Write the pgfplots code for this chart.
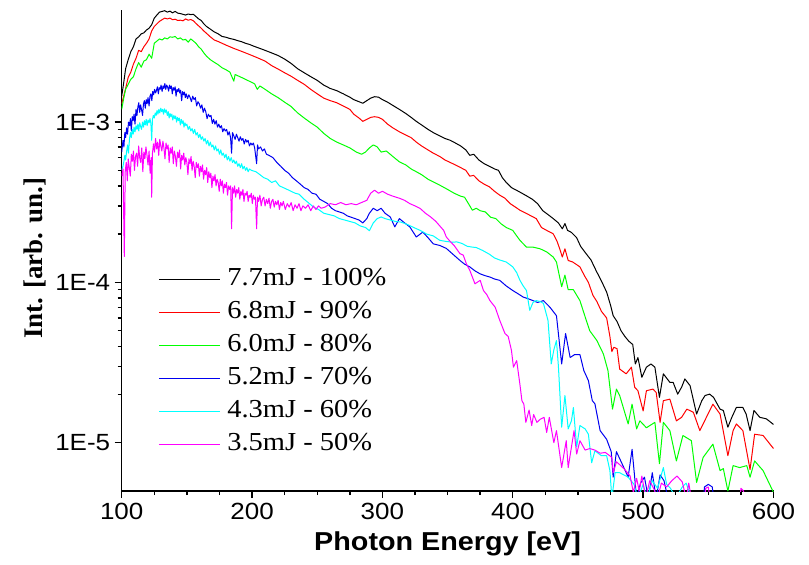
\documentclass[border=0pt]{standalone}
\usepackage{pgfplots}
\pgfplotsset{compat=1.18}
\usepackage{fontspec}
\setmainfont{Liberation Serif}[FakeStretch=1.1]
\newfontfamily\serifplain{Liberation Serif}
\newfontfamily\sansf{Liberation Sans}[FakeStretch=1.11]
\definecolor{cgreen}{RGB}{0,255,0}
\definecolor{cblue}{RGB}{0,0,240}
\definecolor{ccyan}{RGB}{0,255,255}
\definecolor{cmag}{RGB}{255,0,255}
\begin{document}
\begin{tikzpicture}[x=1bp,y=1bp]
\useasboundingbox (-121.7,-74) rectangle (687.3,491);
\begin{axis}[
  at={(0,0)}, anchor=south west,
  scale only axis, width=651.8bp, height=481bp,
  ymode=log, xmin=100, xmax=600, ymin=5e-6, ymax=5e-3,
  axis x line*=bottom, axis y line*=left,
  axis line style={line width=1.6bp},
  tick align=outside, major tick length=7bp, minor tick length=4bp,
  every tick/.style={line width=1.4bp, black},
  xtick={100,200,300,400,500,600},
  xticklabels={100,200,300,400,500,600},
  minor x tick num=3,
  ytick={1e-5,1e-4,1e-3},
  yticklabels={1E-5,1E-4,1E-3},
  ticklabel style={font=\sansf\fontsize{23.5}{26}\selectfont},
  xticklabel style={yshift=-2bp},
  yticklabel style={xshift=-1bp},
  xlabel={Photon Energy [eV]},
  ylabel={Int. [arb. un.]},
  xlabel style={font=\sansf\bfseries\fontsize{26}{30}\selectfont, anchor=center, at={(axis description cs:0.5,-0.110)}},
  ylabel style={font=\serifplain\bfseries\fontsize{27}{30}\selectfont, anchor=center, rotate=0, at={(axis description cs:-0.133,0.484)}},
  legend style={at={(axis description cs:0.0562,0.4663)}, anchor=north west, draw=none, fill=none,
    font=\fontsize{26}{30}\selectfont, inner sep=0pt, outer sep=0pt,
    nodes={inner sep=0pt, text height=19bp, text depth=7bp}, row sep=7bp,
    /tikz/every odd column/.append style={column sep=7bp}},
  legend cell align=left,
  legend image code/.code={\path (0bp,-2bp) (0bp,7bp); \draw[#1, line width=1bp] (0bp,0bp) -- (61bp,0bp);},
  every axis plot/.append style={line width=1bp, line join=round},
]
% 7.7 mJ
\addplot[black] coordinates {
(100,1.45e-3) (101.5,1.75e-3) (103,2.15e-3) (105,2.45e-3) (107,2.75e-3) (109,2.95e-3) (111,3.3e-3) (113,3.4e-3) (115,3.55e-3) (117,3.6e-3) (119,3.75e-3) (121,3.85e-3) (123,4.05e-3) (125,4.45e-3) (127,4.65e-3) (129,4.85e-3) (131,4.9e-3) (133,4.95e-3) (135,4.85e-3) (137,4.92e-3) (139,4.8e-3) (141,4.9e-3) (143,4.78e-3) (145,4.75e-3) (147,4.7e-3) (149,4.65e-3) (151,4.72e-3) (153,4.68e-3) (155,4.7e-3) (157,4.55e-3) (159,4.4e-3) (161,4.3e-3) (163,4.1e-3) (165,3.95e-3) (168,3.8e-3) (171,3.65e-3) (174,3.55e-3) (177,3.42e-3) (180,3.38e-3) (183,3.32e-3) (186,3.28e-3) (189,3.22e-3) (192,3.17e-3) (195,3.1e-3) (198,3.05e-3) (201,2.98e-3) (205,2.9e-3) (210,2.8e-3) (215,2.7e-3) (220,2.6e-3) (225,2.47e-3) (230,2.32e-3) (235,2.15e-3) (240,2.03e-3) (245,1.92e-3) (250,1.82e-3) (255,1.7e-3) (260,1.62e-3) (265,1.57e-3) (270,1.5e-3) (275,1.43e-3) (278,1.38e-3) (282,1.34e-3) (285,1.31e-3) (288,1.36e-3) (291,1.41e-3) (294,1.44e-3) (297,1.43e-3) (300,1.38e-3) (304,1.33e-3) (308,1.27e-3) (313,1.2e-3) (318,1.13e-3) (322,1.07e-3) (326,1.01e-3) (330,0.96e-3) (335,0.9e-3) (339,0.86e-3) (344,0.82e-3) (348,0.79e-3) (352,0.77e-3) (356,0.74e-3) (360,0.71e-3) (364,0.67e-3) (367,0.62e-3) (370,0.63e-3) (374,0.58e-3) (378,0.55e-3) (382,0.53e-3) (386,0.51e-3) (389,0.5e-3) (392,0.45e-3) (395,0.42e-3) (399,0.39e-3) (403,0.375e-3) (407,0.36e-3) (411,0.345e-3) (415,0.33e-3) (419,0.31e-3) (423,0.28e-3) (427,0.265e-3) (431,0.25e-3) (435,0.235e-3) (438,0.216e-3) (440,0.233e-3) (442,0.211e-3) (445,0.205e-3) (449,0.19e-3) (452,0.168e-3) (456,0.152e-3) (460,0.138e-3) (464,0.118e-3) (468,0.102e-3) (472,0.087e-3) (475,0.072e-3) (477,0.062e-3) (480,0.057e-3) (483,0.05e-3) (486,0.046e-3) (489,0.043e-3) (492,0.041e-3) (494,3.1e-5) (496,3.4e-5) (499,2.56e-5) (502.5,2.96e-5) (506,3.1e-5) (509,2.96e-5) (512.5,1.92e-5) (515.5,2.69e-5) (520.5,2.38e-5) (523,2.38e-5) (526.5,2.01e-5) (529.5,2.22e-5) (532,2.5e-5) (536,2.27e-5) (541,1.51e-5) (545,1.83e-5) (547.5,1.97e-5) (551,2.01e-5) (554,1.92e-5) (559,1.62e-5) (561.5,1.59e-5) (565,1.25e-5) (568,1.44e-5) (571.5,1.66e-5) (576.5,1.66e-5) (579,1.51e-5) (582,1.19e-5) (585,1.59e-5) (589.5,1.44e-5) (594.5,1.41e-5) (600,1.3e-5)
};
\addlegendentry{7.7mJ - 100\%}
% 6.8 mJ
\addplot[red] coordinates {
(100,1.3e-3) (101.5,1.45e-3) (103,1.62e-3) (105,1.9e-3) (107,2.05e-3) (109,2.3e-3) (111,2.5e-3) (113,2.8e-3) (115,2.75e-3) (117,2.95e-3) (119,3.1e-3) (121,3.3e-3) (123,3.7e-3) (125,3.95e-3) (127,4.1e-3) (129,4.25e-3) (131,4.35e-3) (133,4.45e-3) (135,4.4e-3) (137,4.45e-3) (139,4.35e-3) (141,4.38e-3) (143,4.3e-3) (145,4.32e-3) (147,4.28e-3) (149,4.4e-3) (151,4.32e-3) (153,4.36e-3) (155,4.28e-3) (157,4.12e-3) (159,3.98e-3) (161,3.85e-3) (163,3.7e-3) (165,3.58e-3) (168,3.4e-3) (171,3.25e-3) (174,3.18e-3) (177,3.1e-3) (180,3.02e-3) (183,2.95e-3) (186,2.88e-3) (189,2.82e-3) (192,2.76e-3) (195,2.7e-3) (198,2.64e-3) (201,2.58e-3) (205,2.5e-3) (210,2.4e-3) (215,2.25e-3) (220,2.14e-3) (225,2.03e-3) (230,1.93e-3) (235,1.82e-3) (240,1.72e-3) (245,1.6e-3) (250,1.5e-3) (255,1.41e-3) (260,1.36e-3) (265,1.32e-3) (270,1.26e-3) (275,1.2e-3) (278,1.12e-3) (282,1.06e-3) (285,1.01e-3) (288,1.04e-3) (291,1.07e-3) (294,1.08e-3) (297,1.07e-3) (300,1.04e-3) (304,0.97e-3) (308,0.92e-3) (313,0.87e-3) (318,0.83e-3) (322,0.8e-3) (326,0.75e-3) (330,0.71e-3) (335,0.67e-3) (339,0.64e-3) (344,0.61e-3) (348,0.58e-3) (352,0.56e-3) (356,0.54e-3) (360,0.52e-3) (364,0.5e-3) (367,0.46e-3) (370,0.465e-3) (374,0.43e-3) (378,0.41e-3) (382,0.395e-3) (386,0.37e-3) (390,0.35e-3) (394,0.335e-3) (398,0.31e-3) (402,0.295e-3) (405.5,0.282e-3) (410.5,0.269e-3) (414,0.26e-3) (418,0.25e-3) (422,0.22e-3) (426,0.211e-3) (431,0.201e-3) (434,0.18e-3) (436,0.162e-3) (438,0.144e-3) (440,0.162e-3) (442.5,0.137e-3) (446,0.134e-3) (451.5,0.125e-3) (455,0.11e-3) (458,0.1e-3) (461.5,0.083e-3) (464.5,0.076e-3) (468,0.066e-3) (472,0.06e-3) (474.5,0.046e-3) (476,0.037e-3) (477.5,0.0394e-3) (480,0.0386e-3) (482,2.88e-5) (487,2.69e-5) (491,2.96e-5) (493.5,2.22e-5) (496,2.11e-5) (500,1.58e-5) (502.5,2.11e-5) (507.5,2.16e-5) (510,2.06e-5) (513,1.34e-5) (515.5,1.83e-5) (520.5,1.87e-5) (525.5,1.37e-5) (529.5,1.44e-5) (533.5,1.62e-5) (538.5,1.55e-5) (543.5,1.19e-5) (548.5,1.44e-5) (553.5,1.74e-5) (559,1.51e-5) (565,8.3e-6) (569,1.19e-5) (571.5,1.31e-5) (576.5,1.19e-5) (582,6.8e-6) (585.5,1.13e-5) (592,1.11e-5) (600,9.2e-6)
};
\addlegendentry{6.8mJ - 90\%}
% 6.0 mJ
\addplot[cgreen] coordinates {
(100,1.2e-3) (101.5,1.4e-3) (103,1.6e-3) (105,1.72e-3) (107,1.85e-3) (109,1.92e-3) (111,2.15e-3) (113,2.35e-3) (115,2.2e-3) (117,2.4e-3) (119,2.45e-3) (121,2.65e-3) (123,2.5e-3) (125,3.1e-3) (127,3.2e-3) (129,3.3e-3) (131,3.25e-3) (133,3.35e-3) (135,3.3e-3) (137,3.4e-3) (139,3.38e-3) (141,3.42e-3) (143,3.3e-3) (145,3.35e-3) (147,3.25e-3) (149,3.28e-3) (151,3.15e-3) (153,3.3e-3) (155,3.2e-3) (157,3.1e-3) (159,2.95e-3) (161,2.85e-3) (163,2.7e-3) (165,2.58e-3) (168,2.45e-3) (171,2.36e-3) (174,2.28e-3) (177,2.18e-3) (180,2.12e-3) (183,2.05e-3) (186,1.8e-3) (187,1.98e-3) (190,1.93e-3) (193,1.88e-3) (196,1.83e-3) (199,1.78e-3) (202,1.73e-3) (204,1.6e-3) (206,1.68e-3) (210,1.6e-3) (215,1.5e-3) (220,1.42e-3) (225,1.33e-3) (230,1.25e-3) (235,1.14e-3) (240,1.06e-3) (245,0.99e-3) (250,0.93e-3) (255,0.85e-3) (260,0.79e-3) (265,0.75e-3) (270,0.72e-3) (275,0.69e-3) (280,0.65e-3) (284,0.63e-3) (287,0.65e-3) (290,0.69e-3) (293,0.72e-3) (296,0.7e-3) (299,0.65e-3) (303,0.66e-3) (308,0.61e-3) (313,0.565e-3) (318,0.54e-3) (322,0.51e-3) (326,0.49e-3) (330,0.47e-3) (335,0.44e-3) (340,0.42e-3) (345,0.4e-3) (350,0.38e-3) (355,0.36e-3) (360,0.345e-3) (363,0.34e-3) (366,0.31e-3) (369,0.282e-3) (372,0.29e-3) (375,0.28e-3) (379,0.275e-3) (383,0.255e-3) (387,0.25e-3) (391,0.232e-3) (395,0.22e-3) (400,0.211e-3) (403,0.195e-3) (405.5,0.183e-3) (410.5,0.166e-3) (415.5,0.166e-3) (421,0.162e-3) (426,0.155e-3) (431,0.144e-3) (433.5,0.134e-3) (437.5,0.094e-3) (440,0.111e-3) (442.5,0.09e-3) (446.5,0.09e-3) (451.5,0.077e-3) (455.5,0.061e-3) (459,0.05e-3) (464.5,0.0434e-3) (469.5,0.0358e-3) (473,0.0282e-3) (476.5,1.62e-5) (479.5,2.16e-5) (482,1.97e-5) (488.5,1.31e-5) (491.5,1.74e-5) (495,1.22e-5) (497.5,1.37e-5) (502.5,1.24e-5) (509,1.34e-5) (512.5,7.4e-6) (515.5,1.34e-5) (520.5,1.19e-5) (525.5,7.7e-6) (530.5,1.11e-5) (537,1.03e-5) (541,5.65e-6) (546,8.1e-6) (553.5,9.8e-6) (559,6.7e-6) (561.5,6.9e-6) (565,5.0e-6) (569,7.2e-6) (574,7.0e-6) (579.5,7.2e-6) (582,6.1e-6) (585.5,7.7e-6) (592,6.7e-6) (600,4.9e-6)
};
\addlegendentry{6.0mJ - 80\%}
% 5.2 mJ
\addplot[cblue] coordinates {
(100,0.65e-3) (101,0.77e-3) (101.7,0.70e-3) (102.4,0.86e-3) (103,0.80e-3) (103.8,0.92e-3) (104.5,0.84e-3) (105.2,1.0e-3) (106,0.95e-3) (106.7,1.05e-3) (107.4,0.88e-3) (108.1,1.08e-3) (108.8,1.02e-3) (109.5,1.12e-3) (110.2,0.97e-3) (111,1.2e-3) (111.7,1.1e-3) (112.4,1.24e-3) (113.1,1.32e-3) (113.8,1.15e-3) (114.5,1.28e-3) (115.2,1.2e-3) (116,1.1e-3) (116.7,1.3e-3) (117.4,1.36e-3) (118.1,1.22e-3) (118.8,1.38e-3) (119.5,1.3e-3) (120.2,1.42e-3) (121,1.26e-3) (121.7,1.45e-3) (122.4,1.5e-3) (123.1,1.36e-3) (123.8,1.55e-3) (124.5,1.48e-3) (125.2,1.6e-3) (126,1.52e-3) (126.7,1.58e-3) (127.4,1.66e-3) (128.1,1.5e-3) (128.8,1.64e-3) (129.5,1.6e-3) (130.2,1.7e-3) (131,1.55e-3) (131.7,1.68e-3) (132.4,1.62e-3) (133.1,1.74e-3) (133.8,1.6e-3) (134.5,1.7e-3) (135.2,1.66e-3) (136,1.56e-3) (136.7,1.7e-3) (137.4,1.62e-3) (138.1,1.68e-3) (138.8,1.5e-3) (139.5,1.64e-3) (140.2,1.58e-3) (141,1.66e-3) (141.7,1.45e-3) (142.4,1.6e-3) (143.1,1.55e-3) (143.8,1.62e-3) (144.5,1.52e-3) (145.2,1.58e-3) (146,1.36e-3) (146.7,1.55e-3) (147.4,1.48e-3) (148.1,1.54e-3) (148.8,1.42e-3) (149.5,1.5e-3) (150.5,1.4e-3) (151.5,1.48e-3) (152.5,1.42e-3) (153.5,1.34e-3) (154.5,1.45e-3) (155.5,1.38e-3) (156.5,1.42e-3) (157.5,1.26e-3) (158.5,1.34e-3) (159.5,1.3e-3) (160.5,1.22e-3) (161.5,1.28e-3) (162.5,1.15e-3) (163.5,1.22e-3) (164.5,1.16e-3) (165.5,1.05e-3) (166.5,1.12e-3) (167.5,1.08e-3) (168.5,1.1e-3) (169.5,0.98e-3) (170.5,1.04e-3) (171.5,0.97e-3) (172.5,1.02e-3) (173.5,0.93e-3) (174.5,0.97e-3) (175.5,0.92e-3) (176.5,0.95e-3) (177.5,0.87e-3) (178.5,0.91e-3) (179.5,0.88e-3) (180.5,0.9e-3) (181.5,0.83e-3) (182.5,0.87e-3) (183.5,0.8e-3) (184.3,0.64e-3) (185,0.86e-3) (186,0.82e-3) (187,0.78e-3) (188,0.84e-3) (189,0.8e-3) (190,0.76e-3) (191,0.81e-3) (192,0.77e-3) (193,0.79e-3) (194,0.73e-3) (195,0.78e-3) (196,0.75e-3) (197,0.77e-3) (198,0.71e-3) (199,0.74e-3) (200,0.72e-3) (201,0.74e-3) (202,0.69e-3) (203.5,0.55e-3) (204.2,0.72e-3) (205,0.68e-3) (206.5,0.7e-3) (208,0.66e-3) (209.5,0.68e-3) (211,0.63e-3) (213,0.62e-3) (216,0.6e-3) (219,0.56e-3) (222,0.53e-3) (225,0.5e-3) (228,0.48e-3) (231,0.45e-3) (234,0.43e-3) (237,0.41e-3) (240,0.39e-3) (243,0.38e-3) (246,0.36e-3) (249,0.355e-3) (252,0.33e-3) (255,0.32e-3) (258,0.31e-3) (261,0.29e-3) (264,0.28e-3) (267,0.275e-3) (270,0.27e-3) (273,0.26e-3) (276,0.255e-3) (279,0.25e-3) (282,0.245e-3) (285,0.235e-3) (288,0.25e-3) (290,0.27e-3) (293,0.29e-3) (296,0.28e-3) (299,0.29e-3) (302,0.27e-3) (306,0.256e-3) (309.5,0.222e-3) (313,0.25e-3) (317,0.235e-3) (321,0.222e-3) (326,0.192e-3) (331,0.206e-3) (335,0.19e-3) (339,0.174e-3) (344,0.17e-3) (349,0.163e-3) (354,0.15e-3) (359.5,0.137e-3) (363,0.13e-3) (367,0.125e-3) (371,0.118e-3) (375,0.113e-3) (379,0.11e-3) (382.5,0.108e-3) (386,0.105e-3) (390,0.103e-3) (395,0.095e-3) (400,0.089e-3) (404,0.085e-3) (408,0.081e-3) (412,0.079e-3) (415.5,0.077e-3) (419,0.075e-3) (423.5,0.077e-3) (428.5,0.07e-3) (433.5,0.062e-3) (437.5,0.031e-3) (440.5,0.048e-3) (444,0.034e-3) (447.5,0.0355e-3) (451.5,0.0355e-3) (454.5,2.82e-5) (458,2.44e-5) (461,1.83e-5) (463,1.75e-5) (467,1.19e-5) (472,1.05e-5) (475.5,8.8e-6) (477,6.1e-6) (479.5,8.8e-6) (484.5,7.2e-6) (488.5,6.1e-6) (491.5,9.1e-6) (495,4.5e-6) (498,5.6e-6) (501,6.1e-6) (504,4.5e-6) (507,6.5e-6) (510,4.5e-6) (513,6.3e-6) (516,5.8e-6) (519,4.5e-6) (522,4.0e-6) (546,4.0e-6) (547,5.3e-6) (550,5.5e-6) (553,5.3e-6) (555,4.0e-6)
};
\addlegendentry{5.2mJ - 70\%}
% 4.3 mJ
\addplot[ccyan] coordinates {
(100,0.50e-3) (101,0.53e-3) (101.7,0.57e-3) (102.4,0.62e-3) (103,0.58e-3) (103.8,0.66e-3) (104.5,0.72e-3) (105.2,0.64e-3) (106,0.79e-3) (106.7,0.86e-3) (107.4,0.8e-3) (108.1,0.9e-3) (108.8,0.84e-3) (109.5,0.93e-3) (110.2,0.87e-3) (111,0.95e-3) (111.7,0.9e-3) (112.4,0.97e-3) (113.1,0.88e-3) (113.8,0.99e-3) (114.5,0.94e-3) (115.2,0.9e-3) (116,1.0e-3) (116.7,0.93e-3) (117.4,1.02e-3) (118.1,0.96e-3) (118.8,1.04e-3) (119.5,0.95e-3) (120.2,1.03e-3) (121,0.99e-3) (121.7,1.05e-3) (122.4,0.98e-3) (123,0.77e-3) (123.6,1.04e-3) (124.3,1.1e-3) (125,1.06e-3) (125.7,1.14e-3) (126.4,1.1e-3) (127.1,1.18e-3) (127.8,1.12e-3) (128.5,1.2e-3) (129.2,1.14e-3) (130,1.22e-3) (130.7,1.16e-3) (131.4,1.2e-3) (132.1,1.12e-3) (132.8,1.21e-3) (133.5,1.15e-3) (134.2,1.19e-3) (135,1.1e-3) (135.7,1.16e-3) (136.4,1.06e-3) (137.1,1.13e-3) (137.8,1.08e-3) (138.5,1.12e-3) (139.2,1.03e-3) (140,1.1e-3) (140.7,1.05e-3) (141.4,1.09e-3) (142.1,1.0e-3) (142.8,1.07e-3) (143.5,1.02e-3) (144.2,1.06e-3) (145,0.96e-3) (145.7,1.04e-3) (146.4,0.98e-3) (147.1,1.02e-3) (147.8,0.93e-3) (148.5,0.99e-3) (149.2,0.95e-3) (150,0.97e-3) (151,0.9e-3) (152,0.94e-3) (153,0.88e-3) (154,0.91e-3) (155,0.85e-3) (156,0.9e-3) (157,0.83e-3) (158,0.86e-3) (159,0.8e-3) (160,0.84e-3) (161,0.78e-3) (162,0.81e-3) (163,0.76e-3) (164,0.79e-3) (165,0.73e-3) (166,0.77e-3) (167,0.71e-3) (168,0.75e-3) (169,0.7e-3) (170,0.72e-3) (171,0.67e-3) (172,0.71e-3) (173,0.66e-3) (174,0.68e-3) (175,0.63e-3) (176,0.67e-3) (177,0.62e-3) (178,0.64e-3) (179,0.6e-3) (180,0.63e-3) (181,0.58e-3) (182,0.61e-3) (183,0.57e-3) (184,0.6e-3) (185,0.56e-3) (186,0.58e-3) (187,0.55e-3) (188,0.57e-3) (189,0.53e-3) (190,0.55e-3) (191,0.52e-3) (192,0.55e-3) (193,0.51e-3) (194,0.53e-3) (195,0.5e-3) (196,0.52e-3) (197,0.49e-3) (198,0.51e-3) (199.5,0.5e-3) (203,0.49e-3) (206,0.47e-3) (209,0.45e-3) (212,0.44e-3) (215,0.42e-3) (218,0.43e-3) (221,0.4e-3) (224,0.39e-3) (227,0.38e-3) (230,0.37e-3) (233,0.36e-3) (236,0.355e-3) (240,0.33e-3) (244,0.31e-3) (247,0.296e-3) (251,0.285e-3) (255,0.27e-3) (259,0.265e-3) (263,0.26e-3) (267,0.25e-3) (271,0.245e-3) (275,0.24e-3) (279,0.235e-3) (283,0.225e-3) (287,0.22e-3) (290,0.21e-3) (293,0.235e-3) (296,0.25e-3) (299,0.256e-3) (302,0.25e-3) (306,0.245e-3) (310,0.24e-3) (314,0.238e-3) (319,0.23e-3) (324,0.22e-3) (329,0.211e-3) (334,0.2e-3) (339,0.195e-3) (344,0.183e-3) (349,0.18e-3) (354,0.178e-3) (357,0.179e-3) (361,0.175e-3) (365,0.168e-3) (369,0.166e-3) (372,0.165e-3) (377,0.158e-3) (382,0.15e-3) (386,0.142e-3) (390,0.138e-3) (395,0.134e-3) (400,0.125e-3) (403,0.115e-3) (405.5,0.103e-3) (408,0.095e-3) (410.5,0.089e-3) (413,0.067e-3) (415.5,0.075e-3) (418,0.077e-3) (421,0.076e-3) (423.5,0.074e-3) (427,0.058e-3) (429.5,0.031e-3) (431.5,0.038e-3) (433.5,0.0434e-3) (435,0.03e-3) (437.5,1.25e-5) (440,1.97e-5) (442.5,1.22e-5) (445,1.37e-5) (446.5,1.66e-5) (449,9.4e-6) (451.5,1.28e-5) (455.5,1.22e-5) (458,1.13e-5) (460.5,7.5e-6) (463,8.9e-6) (468,8.3e-6) (472,8.3e-6) (474.5,6.7e-6) (476,4.5e-6) (478.5,6.5e-6) (482,6.5e-6) (488.5,6.1e-6) (493,5.5e-6) (496,4.5e-6) (500,5.5e-6) (503,4.5e-6) (507,5.8e-6) (511,5.2e-6) (515.5,7e-6) (518,5.5e-6) (521,5.2e-6) (525,4.5e-6) (530,5.3e-6) (533,5.6e-6) (537,4.5e-6) (540,4e-6)
};
\addlegendentry{4.3mJ - 60\%}
% 3.5 mJ
\addplot[cmag] coordinates {
(100,4.6e-4) (101,5.1e-4) (102,1.45e-4) (102.7,4.9e-4) (103.5,5.6e-4) (104.3,4.3e-4) (105,5.9e-4) (105.8,5.2e-4) (106.6,4.6e-4) (107.4,6.3e-4) (108.2,5.7e-4) (109,6.6e-4) (109.8,5.0e-4) (110.6,6.1e-4) (111.4,6.4e-4) (112.2,5.3e-4) (113,7.1e-4) (113.8,6.0e-4) (114.6,5.6e-4) (115.4,6.9e-4) (116.2,4.9e-4) (117,6.5e-4) (117.8,5.9e-4) (118.6,7.0e-4) (119.4,6.2e-4) (120.2,5.4e-4) (121,6.6e-4) (121.8,4.8e-4) (122.6,6.0e-4) (123,3.4e-4) (123.6,6.4e-4) (124.4,7.3e-4) (125.2,6.5e-4) (126,7.9e-4) (126.8,6.8e-4) (127.6,7.5e-4) (128.4,6.2e-4) (129.2,7.8e-4) (130,7.1e-4) (130.8,6.6e-4) (131.6,7.6e-4) (132.4,6.9e-4) (133.2,5.9e-4) (134,7.4e-4) (134.8,6.8e-4) (135.6,7.2e-4) (136.4,5.6e-4) (137.2,6.9e-4) (138,6.4e-4) (138.8,7.0e-4) (139.6,5.5e-4) (140.4,6.6e-4) (141.2,6.1e-4) (142,5.3e-4) (142.8,6.5e-4) (143.6,6.0e-4) (144.4,6.7e-4) (145.2,5.1e-4) (146,6.2e-4) (146.8,5.8e-4) (147.6,6.4e-4) (148.4,5.4e-4) (149.2,6.0e-4) (150,5.6e-4) (150.8,4.7e-4) (151.6,5.9e-4) (152.4,5.5e-4) (153.2,6.1e-4) (154,5.0e-4) (154.8,5.7e-4) (155.6,5.3e-4) (156.4,4.5e-4) (157.2,5.6e-4) (158,5.2e-4) (158.8,5.5e-4) (159.6,4.6e-4) (160.4,5.3e-4) (161.2,4.9e-4) (162,5.4e-4) (162.8,4.4e-4) (163.6,5.0e-4) (164.4,4.7e-4) (165.2,5.2e-4) (166,4.2e-4) (166.8,4.9e-4) (167.6,4.5e-4) (168.4,4.8e-4) (169.2,3.9e-4) (170,4.6e-4) (170.8,4.3e-4) (171.6,4.7e-4) (172.4,4.0e-4) (173.2,4.4e-4) (174,4.2e-4) (174.8,3.7e-4) (175.6,4.4e-4) (176.4,4.0e-4) (177.2,4.3e-4) (178,3.6e-4) (178.8,4.1e-4) (179.6,3.9e-4) (180.4,4.2e-4) (181.2,3.5e-4) (182,4.0e-4) (182.8,3.8e-4) (183.6,4.0e-4) (184.3,2.16e-4) (185,3.9e-4) (185.8,3.6e-4) (186.6,4.0e-4) (187.4,3.4e-4) (188.2,3.8e-4) (189,3.6e-4) (189.8,3.9e-4) (190.6,3.3e-4) (191.4,3.7e-4) (192.2,3.5e-4) (193,3.8e-4) (193.8,3.2e-4) (194.6,3.6e-4) (195.4,3.5e-4) (196.2,3.7e-4) (197,3.2e-4) (197.8,3.5e-4) (198.6,3.4e-4) (199.4,3.6e-4) (200.2,3.1e-4) (201,3.5e-4) (201.8,3.3e-4) (202.6,3.4e-4) (203.5,2.16e-4) (204.2,3.4e-4) (205,3.2e-4) (206,3.5e-4) (207,3.0e-4) (208,3.3e-4) (209,3.4e-4) (210,3.0e-4) (211,3.3e-4) (212,3.1e-4) (213,3.35e-4) (214,2.9e-4) (215,3.2e-4) (216,3.3e-4) (217,2.95e-4) (218,3.2e-4) (219,3.05e-4) (220,3.25e-4) (221,2.85e-4) (222,3.15e-4) (223,3.0e-4) (224,3.2e-4) (225.5,2.85e-4) (227,3.1e-4) (228.5,2.95e-4) (230,3.15e-4) (231.5,2.8e-4) (233,3.05e-4) (234.5,2.9e-4) (236,3.1e-4) (237.5,2.8e-4) (239,3.0e-4) (241,2.9e-4) (243,3.05e-4) (245,2.8e-4) (247,3.0e-4) (249,2.85e-4) (251,3.0e-4) (253,2.9e-4) (256,2.95e-4) (260,3.1e-4) (264,3.05e-4) (268,3.15e-4) (272,3.05e-4) (276,3.1e-4) (280,3.05e-4) (284,3.15e-4) (288,3.25e-4) (291,3.6e-4) (294,3.76e-4) (297,3.6e-4) (300,3.7e-4) (304,3.55e-4) (308,3.45e-4) (313,3.35e-4) (317,3.25e-4) (321,3.1e-4) (325,3.0e-4) (329,2.89e-4) (333,2.7e-4) (337,2.56e-4) (341,2.4e-4) (344,2.25e-4) (347,2.11e-4) (349,1.92e-4) (352,1.8e-4) (355,1.7e-4) (359.5,1.51e-4) (362,1.48e-4) (364.5,1.3e-4) (367,1.19e-4) (369,1.08e-4) (371,9.8e-5) (375,1.03e-4) (377.5,8.9e-5) (380,8.4e-5) (382.5,7.7e-5) (386.5,7.0e-5) (390,5.8e-5) (394,4.8e-5) (396.5,4.6e-5) (399,3.76e-5) (400.5,2.96e-5) (403,3.25e-5) (405.5,2.3e-5) (407,1.83e-5) (408.5,1.74e-5) (410,1.34e-5) (412.5,1.6e-5) (414.5,1.28e-5) (416,1.5e-5) (418.5,1.34e-5) (421,1.4e-5) (424,1.44e-5) (426,1.16e-5) (428,1.44e-5) (431.5,1.0e-5) (433.5,1.19e-5) (437.5,7.0e-6) (441,1.03e-5) (442.5,7.0e-6) (447,1.19e-5) (449,8.5e-6) (451.5,1.03e-5) (455.5,9.0e-6) (459,9.2e-6) (463,9.0e-6) (467,8.6e-6) (471,8.7e-6) (476,8.1e-6) (477,6.5e-6) (479.5,7.6e-6) (482,7.3e-6) (486,6.8e-6) (490,6.2e-6) (492.5,4.9e-6) (495,6.0e-6) (497,5.0e-6) (499,6.2e-6) (502,4.5e-6) (505,5.8e-6) (508,5.2e-6) (511,4.5e-6) (514,5.6e-6) (518,5.3e-6) (522,5.8e-6) (526,6.2e-6) (530,5.7e-6) (533,4.5e-6) (535,5.6e-6) (538,4e-6) (547,4e-6) (548,5.2e-6) (550,5.3e-6) (552,4e-6) (574,4e-6) (575,5.2e-6) (577,5.0e-6) (578,4e-6)
};
\addlegendentry{3.5mJ - 50\%}
\end{axis}
\end{tikzpicture}
\end{document}
